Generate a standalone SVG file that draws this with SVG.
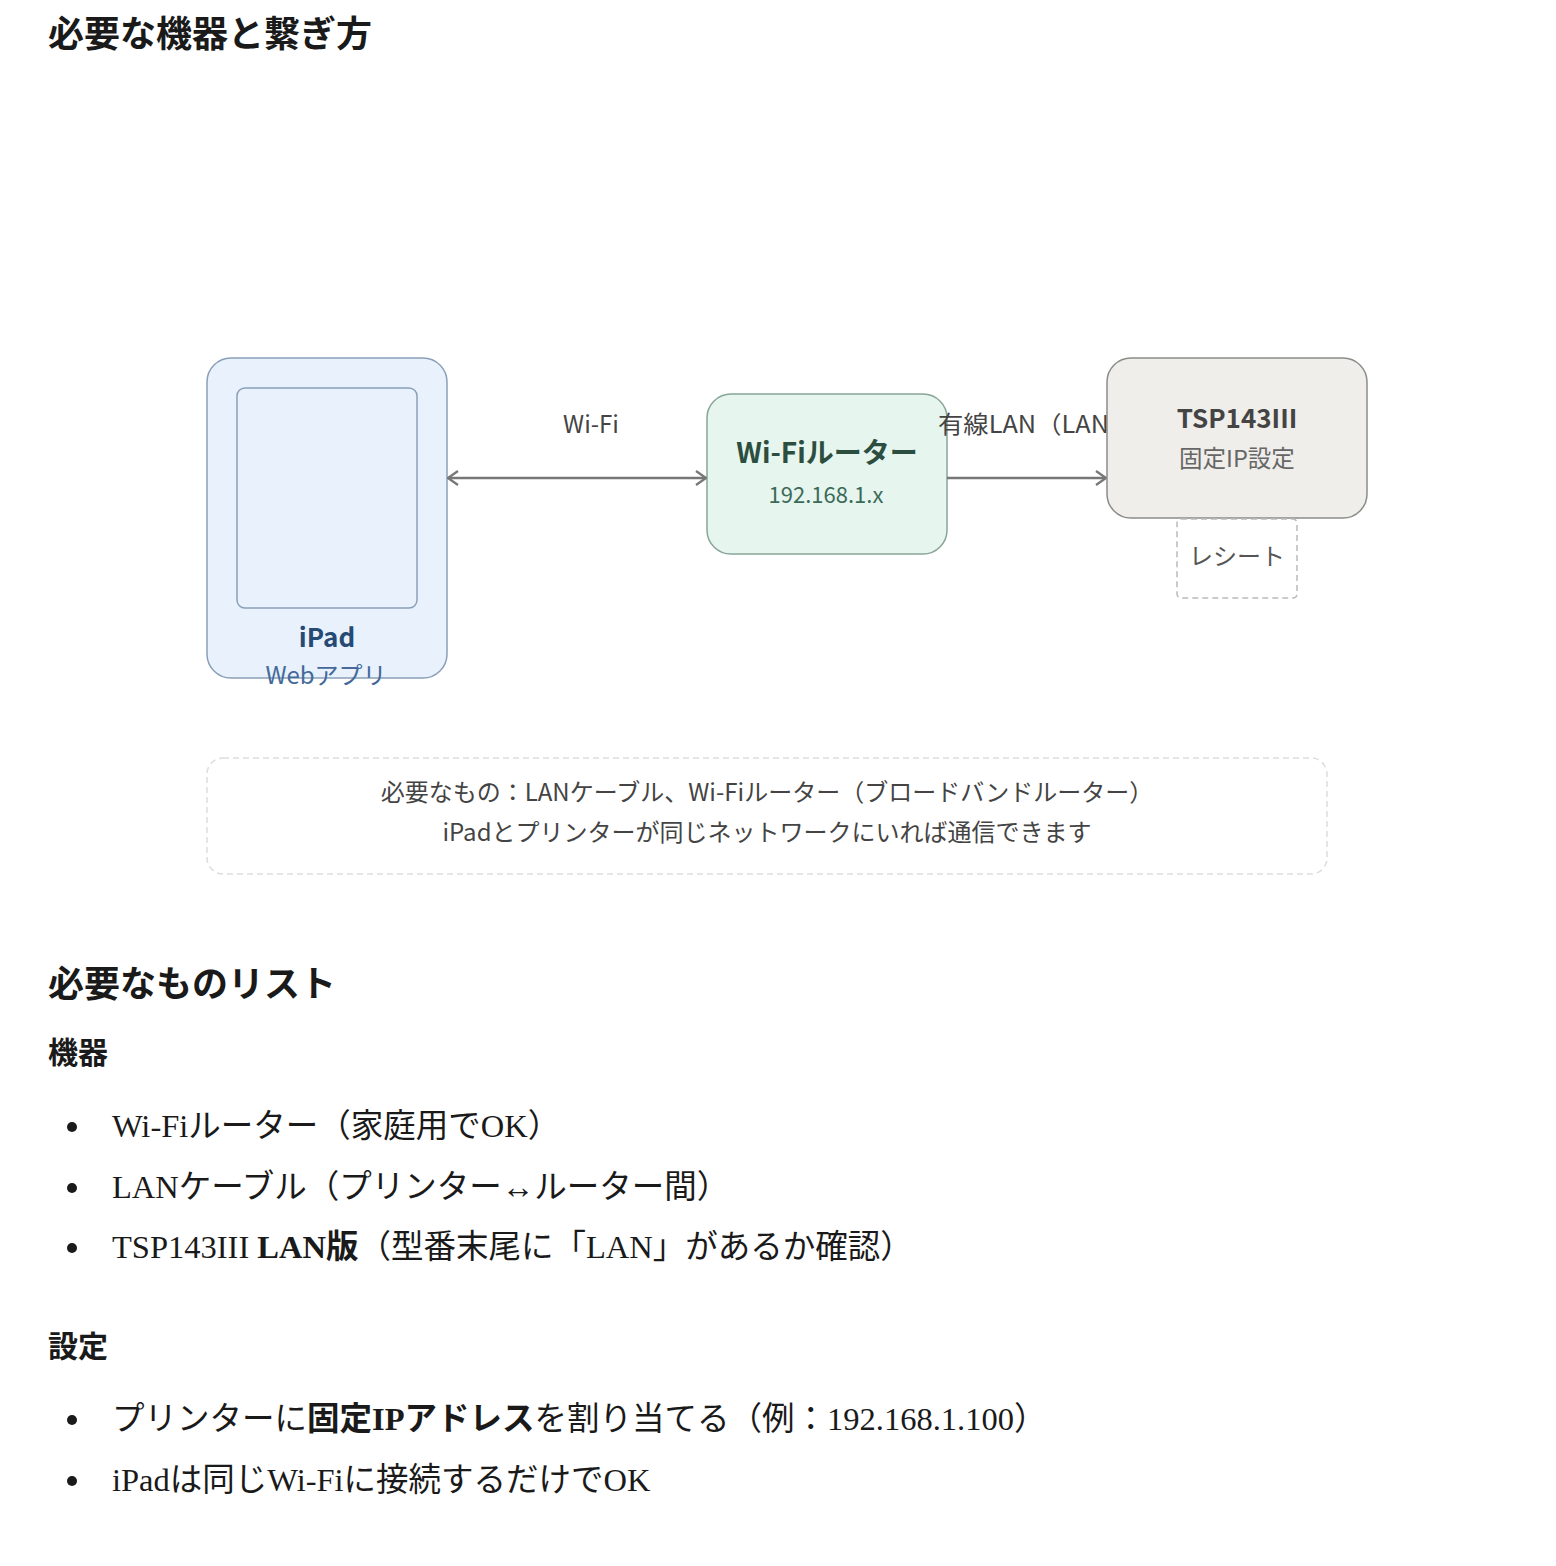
<svg xmlns="http://www.w3.org/2000/svg" width="1556" height="1566" viewBox="0 0 1556 1566">
<defs>
<style>
.sans{font-family:"Noto Sans CJK JP","Noto Sans",sans-serif}
.h1{font-size:36px;font-weight:700;fill:#1a1a1a}
.h3{font-size:30px;font-weight:700;fill:#1a1a1a}
.lbl{font-size:24px;fill:#444}
.li{font-family:"Liberation Serif","Noto Sans CJK JP",serif;font-size:32.5px;fill:#1a1a1a}
.b{font-weight:700}
.conn{stroke:#777;stroke-width:2.5;fill:none}
</style>
<marker id="ah" viewBox="0 0 12 16" refX="11" refY="8" markerWidth="12" markerHeight="16" markerUnits="userSpaceOnUse" orient="auto-start-reverse">
<path d="M1,1 L11,8 L1,15" fill="none" stroke="#777" stroke-width="2.2"/>
</marker>
</defs>
<rect width="1556" height="1566" fill="#ffffff"/>
<text class="sans h1" x="48" y="47">必要な機器と繋ぎ方</text>

<g id="ipad">
<rect x="207" y="358" width="240" height="320" rx="24" fill="#e8f1fc" stroke="#8aa0b8" stroke-width="1.5"/>
<rect x="237" y="388" width="180" height="220" rx="8" fill="#e8f1fc" stroke="#8aa0b8" stroke-width="1.5"/>
<text class="sans" x="327" y="647" text-anchor="middle" font-size="26" font-weight="700" fill="#274a74">iPad</text>
<text class="sans" x="326" y="684" text-anchor="middle" font-size="24" fill="#44699a">Webアプリ</text>
</g>

<g id="router">
<rect x="707" y="394" width="240" height="160" rx="24" fill="#e6f5ee" stroke="#88a599" stroke-width="1.5"/>
<text class="sans" x="827" y="463" text-anchor="middle" font-size="28" font-weight="700" fill="#2b4e3f">Wi-Fiルーター</text>
<text class="sans" x="826" y="503" text-anchor="middle" font-size="22" fill="#3c6a59">192.168.1.x</text>
</g>

<g id="connectors">
<line class="conn" x1="448" y1="478" x2="706" y2="478" marker-start="url(#ah)" marker-end="url(#ah)"/>
<text class="sans lbl" x="591" y="433" text-anchor="middle" font-size="25">Wi-Fi</text>
<line class="conn" x1="947" y1="478" x2="1106" y2="478" marker-end="url(#ah)"/>
<text class="sans lbl" x="938" y="433" textLength="171" lengthAdjust="spacingAndGlyphs">有線LAN（LAN</text>
</g>

<g id="printer">
<rect x="1107" y="358" width="260" height="160" rx="24" fill="#efeeea" stroke="#8c8c89" stroke-width="1.5"/>
<text class="sans" x="1237" y="428" text-anchor="middle" font-size="26" font-weight="700" fill="#444">TSP143III</text>
<text class="sans" x="1237" y="467" text-anchor="middle" font-size="23.5" fill="#666">固定IP設定</text>
</g>

<g id="receipt">
<rect x="1177" y="519" width="120" height="79" rx="4" fill="#ffffff" stroke="#bbbbbb" stroke-width="1.5" stroke-dasharray="6 4"/>
<text class="sans" x="1237" y="565" text-anchor="middle" font-size="24" fill="#555">レシート</text>
</g>

<g id="note">
<rect x="207" y="758" width="1120" height="116" rx="16" fill="#ffffff" stroke="#dddddd" stroke-width="1.5" stroke-dasharray="6 4"/>
<text class="sans lbl" x="767" y="801" text-anchor="middle">必要なもの：LANケーブル、Wi-Fiルーター（ブロードバンドルーター）</text>
<text class="sans lbl" x="767" y="841" text-anchor="middle">iPadとプリンターが同じネットワークにいれば通信できます</text>
</g>

<text class="sans h1" x="48" y="997">必要なものリスト</text>
<text class="sans h3" x="48" y="1063">機器</text>
<g fill="#1a1a1a">
<circle cx="72" cy="1127" r="5"/>
<circle cx="72" cy="1188" r="5"/>
<circle cx="72" cy="1248" r="5"/>
<circle cx="72" cy="1420" r="5"/>
<circle cx="72" cy="1481" r="5"/>
</g>
<text class="li" x="112" y="1137">Wi-Fiルーター（家庭用でOK）</text>
<text class="li" x="112" y="1198">LANケーブル（プリンター↔ルーター間）</text>
<text class="li" x="112" y="1258">TSP143III <tspan class="b">LAN版</tspan>（型番末尾に「LAN」があるか確認）</text>
<text class="sans h3" x="48" y="1357">設定</text>
<text class="li" x="112" y="1430">プリンターに<tspan class="b">固定IPアドレス</tspan>を割り当てる（例：192.168.1.100）</text>
<text class="li" x="112" y="1491">iPadは同じWi-Fiに接続するだけでOK</text>
</svg>
